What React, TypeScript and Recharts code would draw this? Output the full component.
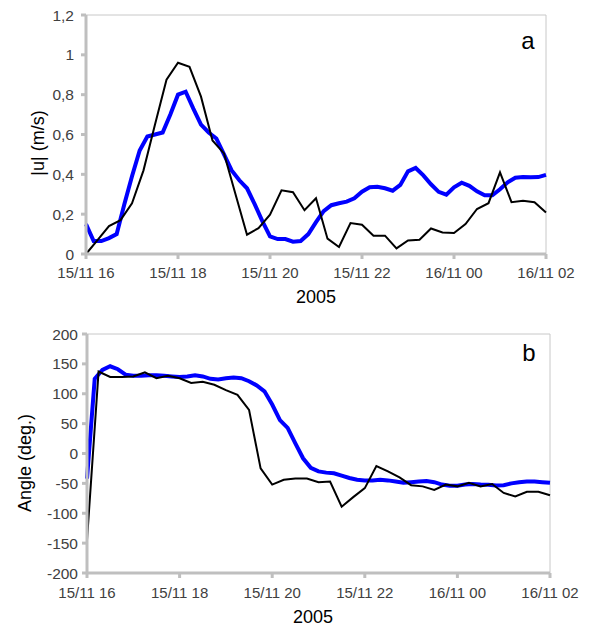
import React from 'react';
import { LineChart, Line, XAxis, YAxis, ReferenceArea } from 'recharts';

// time axis: hours after 15/11 16:00
const hourTicks = [0, 2, 4, 6, 8, 10];
const hourLabels = ['15/11 16', '15/11 18', '15/11 20', '15/11 22', '16/11 00', '16/11 02'];

const speedTicks = [0, 0.2, 0.4, 0.6, 0.8, 1, 1.2];
const angleTicks = [-200, -150, -100, -50, 0, 50, 100, 150, 200];

// black series: every 15 min
const blackStepH = 0.25;
const blackSpeed = [
  0, 0.07, 0.14, 0.17, 0.255, 0.42, 0.65, 0.875, 0.96, 0.94, 0.79, 0.57, 0.505, 0.3, 0.097, 0.13,
  0.197, 0.32, 0.31, 0.22, 0.28, 0.077, 0.035, 0.155, 0.147, 0.092, 0.092, 0.028, 0.068, 0.072,
  0.128, 0.108, 0.105, 0.15, 0.226, 0.255, 0.41, 0.26, 0.267, 0.26, 0.208,
];
const blackAngle = [
  -145, 137, 128, 128, 129, 136, 126, 130, 126, 118, 120, 115, 106, 98, 73, -25,
  -52, -44, -42, -42, -48, -47, -89, -73, -58, -21, -30, -40, -53, -55,
  -61, -52, -55, -49, -55, -51, -66, -72, -64, -64, -70,
];

// blue series: every 10 min
const blueStepH = 1 / 6;
const blueSpeed = [
  0.15, 0.065, 0.065, 0.08, 0.1, 0.25, 0.39, 0.52, 0.59, 0.6, 0.61, 0.7, 0.8, 0.815, 0.73, 0.65,
  0.61, 0.58, 0.5, 0.42, 0.37, 0.33, 0.25, 0.165, 0.088, 0.075, 0.075, 0.062, 0.065, 0.1,
  0.16, 0.215, 0.245, 0.255, 0.263, 0.28, 0.313, 0.335, 0.338, 0.33, 0.318, 0.347, 0.415, 0.432,
  0.395, 0.35, 0.312, 0.298, 0.335, 0.358, 0.342, 0.315, 0.295, 0.295, 0.325, 0.36, 0.383,
  0.387, 0.385, 0.386, 0.397,
];
const blueAngle = [
  -42, 125, 140, 146, 141, 132, 130, 130, 131, 131, 130, 129, 128, 129, 131, 129,
  125, 124, 126, 127, 126, 121, 114, 104, 82, 56, 43, 17, -8, -24,
  -30, -32, -33, -37, -41, -44, -45, -45, -44, -45, -47, -49, -48, -47,
  -46, -48, -52, -54, -54, -52, -51, -52, -52.5, -53.5, -53, -50, -48,
  -47, -47, -48, -49,
];

const toRows = (vals: number[], step: number) => vals.map((v, i) => ({ t: i * step, v }));

const FONT = '"Liberation Sans", Arial, sans-serif';
const AXIS = '#bfbfbf';
const TXT = '#404040';

const fmtHour = (v: number) => hourLabels[hourTicks.indexOf(v)] ?? '';
const fmtComma = (v: number) => String(v).replace('.', ',');

type PanelProps = {
  top: number;
  height: number;
  margin: { top: number; right: number; bottom: number; left: number };
  domain: [number, number];
  yTicks: number[];
  yFmt?: (v: number) => string;
  yTickMargin: number;
  xTickMargin: number;
  blue: { t: number; v: number }[];
  black: { t: number; v: number }[];
};

const Panel = ({ top, height, margin, domain, yTicks, yFmt, yTickMargin, xTickMargin, blue, black }: PanelProps) => (
  <div style={{ position: 'absolute', left: 0, top }}>
    <LineChart width={594} height={height} margin={margin}>
      <ReferenceArea x1={0} x2={10} y1={domain[0]} y2={domain[1]} fill="none" stroke="#c8c8c8" strokeWidth={1} />
      <XAxis
        type="number"
        dataKey="t"
        domain={[0, 10]}
        ticks={hourTicks}
        tickFormatter={fmtHour}
        allowDuplicatedCategory={false}
        height={30}
        stroke={AXIS}
        axisLine={{ stroke: AXIS, strokeWidth: 3 }}
        tickLine={{ stroke: AXIS, strokeWidth: 3 }}
        tickSize={5}
        tickMargin={xTickMargin}
        tick={{ fill: TXT, fontSize: 15, fontFamily: FONT }}
        interval={0}
      />
      <YAxis
        type="number"
        domain={domain}
        ticks={yTicks}
        tickFormatter={yFmt}
        width={40}
        stroke={AXIS}
        axisLine={{ stroke: AXIS, strokeWidth: 3 }}
        tickLine={{ stroke: AXIS, strokeWidth: 3 }}
        tickSize={5}
        tickMargin={yTickMargin}
        tick={{ fill: TXT, fontSize: 15.5, fontFamily: FONT }}
        interval={0}
      />
      <Line data={blue} dataKey="v" type="linear" stroke="#0000ff" strokeWidth={4} dot={false} isAnimationActive={false} />
      <Line data={black} dataKey="v" type="linear" stroke="#000000" strokeWidth={2} dot={false} isAnimationActive={false} />
    </LineChart>
  </div>
);

export default function App() {
  return (
    <div style={{ position: 'absolute', left: 0, top: 0, width: 594, height: 628, background: '#fff', fontFamily: FONT }}>
      <Panel
        top={0}
        height={310}
        margin={{ top: 15, right: 48, bottom: 26, left: 46 }}
        domain={[0, 1.2]}
        yTicks={speedTicks}
        yFmt={fmtComma}
        yTickMargin={7}
        xTickMargin={8}
        blue={toRows(blueSpeed, blueStepH)}
        black={toRows(blackSpeed, blackStepH)}
      />
      <Panel
        top={310}
        height={318}
        margin={{ top: 24, right: 44, bottom: 25, left: 47 }}
        domain={[-200, 200]}
        yTicks={angleTicks}
        yTickMargin={4}
        xTickMargin={9}
        blue={toRows(blueAngle, blueStepH)}
        black={toRows(blackAngle, blackStepH)}
      />
      <svg width={594} height={628} style={{ position: 'absolute', left: 0, top: 0, pointerEvents: 'none' }}>
        <g fontFamily={FONT} fill="#000">
          <text x={38} y={143} fontSize={18} textAnchor="middle" dominantBaseline="central" transform="rotate(-90 38 143)">|u| (m/s)</text>
          <text x={316} y={297} fontSize={18} textAnchor="middle" dominantBaseline="central">2005</text>
          <text x={528} y={40} fontSize={24} textAnchor="middle" dominantBaseline="central">a</text>
          <text x={25} y={463} fontSize={18} textAnchor="middle" dominantBaseline="central" transform="rotate(-90 25 463)">Angle (deg.)</text>
          <text x={313} y={617} fontSize={18} textAnchor="middle" dominantBaseline="central">2005</text>
          <text x={529} y={352} fontSize={24} textAnchor="middle" dominantBaseline="central">b</text>
        </g>
      </svg>
    </div>
  );
}
